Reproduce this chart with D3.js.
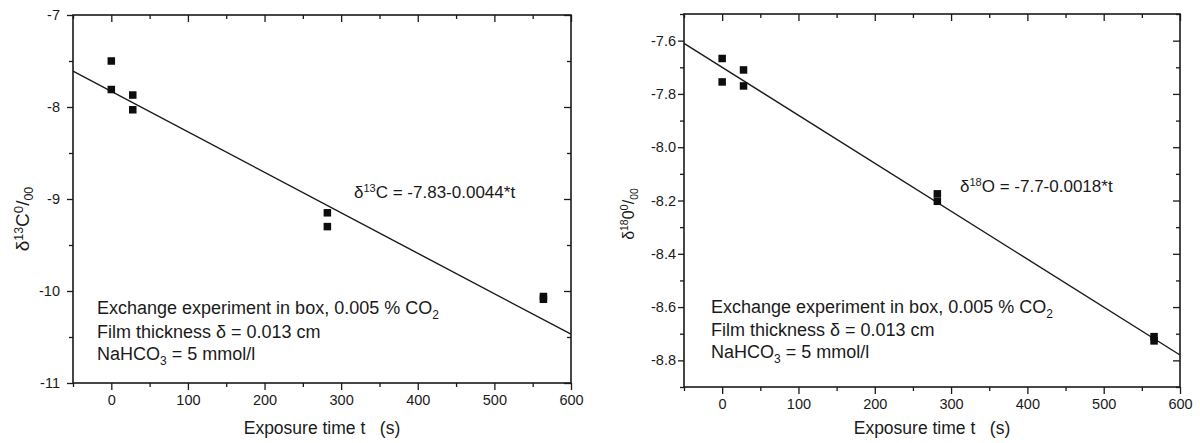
<!DOCTYPE html>
<html>
<head>
<meta charset="utf-8">
<script src="https://cdn.jsdelivr.net/npm/d3@7"></script>
<style>
body { margin: 0; background: #fff; }
text { font-family: Arial, "Liberation Sans", sans-serif; fill: #1a1a1a; }
</style>
</head>
<body>
<div id="chart"></div>
<script>
// data
var timeC = [0, 0, 28, 28, 282, 282, 564, 564];
var deltaC = [-7.5, -7.81, -7.87, -8.03, -9.15, -9.3, -10.06, -10.09];
var timeO = [0, 0, 28, 28, 282, 282, 566, 566];
var deltaO = [-7.667, -7.755, -7.71, -7.77, -8.175, -8.203, -8.711, -8.727];

var fitC = [-7.83, -0.0044];
var fitO = [-7.7, -0.0018];

var xTicks = [0, 100, 200, 300, 400, 500, 600];
var xMinor = [-50, 50, 150, 250, 350, 450, 550];
var yTicksC = [-7, -8, -9, -10, -11];
var yMinorC = [-7.5, -8.5, -9.5, -10.5];
var yTicksO = [-7.6, -7.8, -8.0, -8.2, -8.4, -8.6, -8.8];
var yMinorO = [-7.5, -7.7, -7.9, -8.1, -8.3, -8.5, -8.7, -8.9];

var notes = ["Exchange experiment in box, 0.005 % CO", "Film thickness \u03b4 = 0.013 cm", "NaHCO"];

var svg = d3.select("#chart").append("svg")
  .attr("width", 1200)
  .attr("height", 443);

function panel(o) {
  var g = svg.append("g");

  var x = d3.scaleLinear().domain([-50, 600]).range([o.left, o.right]);
  var y = d3.scaleLinear().domain(o.ydom).range([o.bottom, o.top]);

  // axes: bottom/left ticks outside, top/right inside
  g.append("g").attr("transform", "translate(0," + o.bottom + ")")
    .call(d3.axisBottom(x).tickValues(xTicks).tickSize(7).tickSizeOuter(0).tickPadding(5));
  g.append("g").attr("transform", "translate(0," + o.bottom + ")")
    .call(d3.axisBottom(x).tickValues(xMinor).tickSize(4).tickSizeOuter(0).tickFormat(""));
  g.append("g").attr("transform", "translate(0," + o.top + ")")
    .call(d3.axisTop(x).tickValues(xTicks).tickSize(-7).tickSizeOuter(0).tickFormat(""));
  g.append("g").attr("transform", "translate(0," + o.top + ")")
    .call(d3.axisTop(x).tickValues(xMinor).tickSize(-4).tickSizeOuter(0).tickFormat(""));

  g.append("g").attr("transform", "translate(" + o.left + ",0)")
    .call(d3.axisLeft(y).tickValues(o.yt).tickSize(6).tickSizeOuter(0).tickPadding(o.pad)
      .tickFormat(function(d){ return d3.format(o.fmt)(d).replace("\u2212", "-"); }));
  g.append("g").attr("transform", "translate(" + o.left + ",0)")
    .call(d3.axisLeft(y).tickValues(o.ym).tickSize(4).tickSizeOuter(0).tickFormat(""));
  g.append("g").attr("transform", "translate(" + o.right + ",0)")
    .call(d3.axisRight(y).tickValues(o.yt).tickSize(-7).tickSizeOuter(0).tickFormat(""));
  g.append("g").attr("transform", "translate(" + o.right + ",0)")
    .call(d3.axisRight(y).tickValues(o.ym).tickSize(-4).tickSizeOuter(0).tickFormat(""));

  g.selectAll(".domain").remove();
  g.selectAll(".tick line").attr("stroke", "#1a1a1a").attr("stroke-width", 1.3);
  g.selectAll(".tick text").attr("font-size", "14.5px").attr("fill", "#1a1a1a")
    .style("font-family", "Arial, 'Liberation Sans', sans-serif");

  g.append("rect")
    .attr("x", o.left).attr("y", o.top)
    .attr("width", o.right - o.left).attr("height", o.bottom - o.top)
    .attr("fill", "none").attr("stroke", "#1a1a1a").attr("stroke-width", 1.6);

  // regression line
  g.append("line")
    .attr("x1", x(-50)).attr("y1", y(o.fit[0] + o.fit[1] * -50))
    .attr("x2", x(600)).attr("y2", y(o.fit[0] + o.fit[1] * 600))
    .attr("stroke", "#1a1a1a").attr("stroke-width", 1.4);

  var s = 7.5;
  g.selectAll(".pt")
    .data(o.t.map(function(d, i){ return {t: d, v: o.v[i]}; }))
    .enter().append("rect")
    .attr("class", "pt")
    .attr("x", function(d){ return x(d.t) - s / 2; })
    .attr("y", function(d){ return y(d.v) - s / 2; })
    .attr("width", s).attr("height", s)
    .attr("fill", "#0d0d0d");

  // equation
  var eq = g.append("text").attr("x", o.eqx).attr("y", o.eqy).attr("font-size", "17px");
  eq.append("tspan").text("\u03b4");
  eq.append("tspan").attr("dy", -6).attr("font-size", "11px").text(o.iso);
  eq.append("tspan").attr("dy", 6).text(o.eq);

  // notes
  var ny = o.noteY;
  var t1 = g.append("text").attr("x", o.noteX).attr("y", ny[0]).attr("font-size", "18px");
  t1.append("tspan").text(notes[0]);
  t1.append("tspan").attr("dy", 5).attr("font-size", "12px").text("2");
  g.append("text").attr("x", o.noteX).attr("y", ny[1]).attr("font-size", "18px").text(notes[1]);
  var t3 = g.append("text").attr("x", o.noteX).attr("y", ny[2]).attr("font-size", "18px");
  t3.append("tspan").text(notes[2]);
  t3.append("tspan").attr("dy", 5).attr("font-size", "12px").text("3");
  t3.append("tspan").attr("dy", -5).text(" = 5 mmol/l");

  // x title
  g.append("text")
    .attr("x", (o.left + o.right) / 2).attr("y", 434)
    .attr("text-anchor", "middle").attr("font-size", "17.5px")
    .text("Exposure time t \u00a0 (s)");

  // y title
  var yl = g.append("text")
    .attr("transform", "translate(" + o.ylx + "," + o.yly + ") rotate(-90)")
    .attr("text-anchor", "middle").attr("font-size", o.ylfs + "px");
  yl.append("tspan").text("\u03b4");
  yl.append("tspan").attr("dy", -6).attr("font-size", (o.ylfs * 0.65) + "px").text(o.iso);
  yl.append("tspan").attr("dy", 6).text(o.ysym);
  yl.append("tspan").attr("dy", -6).attr("font-size", (o.ylfs * 0.7) + "px").text("0");
  yl.append("tspan").attr("dy", 6).text("/");
  yl.append("tspan").attr("dy", 4).attr("font-size", (o.ylfs * 0.65) + "px").text("00");
}

panel({
  left: 73, right: 571, top: 15, bottom: 383,
  ydom: [-11, -7], yt: yTicksC, ym: yMinorC, fmt: "d", pad: 7,
  t: timeC, v: deltaC, fit: fitC,
  iso: "13", eq: "C = -7.83-0.0044*t", eqx: 354, eqy: 198,
  noteX: 97, noteY: [314, 338, 360],
  ysym: "C", ylx: 29, yly: 219, ylfs: 19
});

panel({
  left: 684, right: 1180, top: 14, bottom: 387,
  ydom: [-8.9, -7.5], yt: yTicksO, ym: yMinorO, fmt: ".1f", pad: 2,
  t: timeO, v: deltaO, fit: fitO,
  iso: "18", eq: "O = -7.7-0.0018*t", eqx: 960, eqy: 192,
  noteX: 711, noteY: [313, 336, 358],
  ysym: "0", ylx: 634, yly: 214, ylfs: 16
});
</script>
</body>
</html>
